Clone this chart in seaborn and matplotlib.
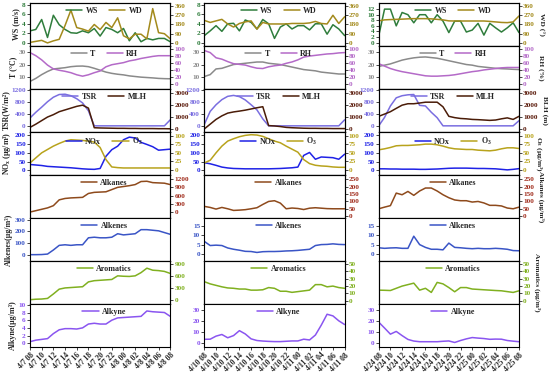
import numpy as np
import pandas as pd
import matplotlib
matplotlib.use('Agg')
import matplotlib.pyplot as plt
import seaborn as sns

# start of each 25-hour episode
starts = ['2019-04-07 08:00', '2019-04-10 08:00', '2019-04-24 08:00']

# ---- episode 1: 4/7 08 - 4/8 08 ----
ws_1 = [2.5, 2.8, 4.9, 1.1, 5.8, 3.8, 2.8, 2.1, 2.0, 2.5, 2.1, 3.0, 1.4, 3.2, 2.8, 2.1, 3.0, 0.4, 2.1, 0.2, 0.9, 0.6, 0.9, 0.9, 0.2]
wd_1 = [5, 15, 25, 0, 20, 35, 170, 320, 150, 135, 115, 180, 130, 200, 150, 245, 70, 40, 85, 85, 40, 335, 100, 90, 40]
t_1 = [6.6, 9, 12, 14.5, 16.5, 17, 17.5, 18.3, 18.7, 18.8, 18.3, 17, 15.5, 14, 13, 12.3, 11.8, 11, 10.5, 10, 9.7, 9.4, 9, 8.8, 8.7]
rh_1 = [91, 82, 70, 55, 44, 40, 37, 33, 27, 23, 27, 33, 38, 50, 56, 59, 62, 67, 70, 74, 77, 80, 82, 82, 82]
tsr_1 = [260, 450, 620, 800, 950, 1040, 1050, 1000, 900, 760, 500, 0, 0, 0, 0, 0, 0, 0, 0, 0, 0, 0, 0, 0, 200]
mlh_1 = [130, 400, 700, 1000, 1200, 1450, 1600, 1750, 1900, 2000, 1750, 100, 80, 70, 60, 50, 50, 40, 40, 30, 30, 30, 20, 20, 10]
nox_1 = [33, 30, 27, 22, 20, 18, 16, 14, 11, 8, 6, 5, 10, 80, 118, 138, 175, 190, 185, 160, 148, 135, 115, 118, 121]
o3_1 = [20, 35, 50, 60, 70, 78, 85, 89, 88, 87, 85, 82, 66, 30, 8, 6, 5, 5, 5, 5, 5, 5, 5, 5, 5]
alkanes_1 = [10, 60, 110, 160, 240, 450, 500, 520, 530, 540, 680, 720, 730, 740, 820, 900, 930, 960, 1000, 1110, 1120, 1070, 1060, 1050, 1000]
alkenes_1 = [0, 0, 1, 5, 40, 80, 85, 80, 85, 85, 145, 150, 145, 145, 150, 180, 170, 175, 180, 215, 215, 210, 205, 190, 175]
aromatics_1 = [8, 20, 25, 40, 150, 270, 300, 310, 320, 330, 450, 480, 490, 500, 510, 600, 590, 585, 600, 680, 790, 740, 730, 710, 660]
alkyne_1 = [0.4, 0.8, 1.0, 1.2, 2.5, 3.5, 3.8, 3.8, 3.7, 4.0, 5.0, 5.2, 5.0, 5.0, 6.0, 6.6, 6.7, 6.8, 6.9, 7.0, 8.4, 8.2, 8.1, 8.0, 7.0]

# ---- episode 2: 4/10 08 - 4/11 08 ----
ws_2 = [1.5, 2.5, 3.6, 2.4, 4.0, 4.1, 2.5, 4.8, 4.3, 2.9, 4.9, 4.0, 0.9, 3.3, 4.0, 2.9, 3.6, 3.6, 2.7, 4.0, 4.0, 1.8, 3.8, 2.9, 1.5]
wd_2 = [220, 200, 215, 230, 185, 155, 190, 205, 215, 135, 200, 185, 185, 185, 185, 190, 190, 190, 195, 210, 190, 185, 270, 190, 255]
t_2 = [10.5, 12, 16.5, 17, 18.5, 20, 20.5, 21, 21.5, 22, 22, 21, 20.5, 20, 19, 18, 17, 16, 15.5, 15, 14, 13.5, 13, 12.5, 12.5]
rh_2 = [97, 91, 76, 72, 65, 59, 57, 55, 50, 46, 45, 50, 53, 55, 60, 64, 70, 78, 81, 83, 85, 87, 88, 90, 91]
tsr_2 = [50, 480, 700, 870, 980, 1010, 970, 860, 700, 530, 230, 0, 0, 0, 0, 0, 0, 0, 0, 0, 0, 0, 0, 0, 200]
mlh_2 = [0, 400, 800, 1100, 1330, 1430, 1500, 1580, 1680, 1780, 1870, 280, 250, 200, 130, 100, 80, 60, 50, 50, 40, 40, 30, 30, 30]
nox_2 = [43, 37, 28, 18, 13, 10, 9, 8, 8, 8, 8, 8, 9, 10, 12, 14, 18, 85, 102, 63, 76, 74, 72, 63, 92]
o3_2 = [20, 28, 50, 70, 85, 92, 98, 102, 104, 103, 99, 92, 85, 80, 70, 61, 52, 30, 18, 13, 11, 10, 8, 7, 7]
alkanes_2 = [67, 60, 49, 60, 51, 40, 42, 45, 51, 58, 80, 100, 105, 89, 51, 56, 53, 46, 55, 58, 55, 52, 51, 51, 51]
alkenes_2 = [6.7, 4.5, 4.7, 4.5, 3.2, 2.5, 2.0, 1.4, 1.3, 0.8, 1.2, 1.3, 1.3, 1.4, 1.6, 1.7, 1.9, 2.2, 2.5, 4.5, 5.0, 5.1, 5.4, 5.1, 5.0]
aromatics_2 = [26, 23, 21, 19, 17.5, 17, 16, 16, 14.5, 14.5, 15, 18, 17, 13, 13, 11.5, 12.5, 13.5, 14.5, 22, 22, 19, 20, 18, 17]
alkyne_2 = [3.1, 3.2, 6, 7.5, 4.5, 6.5, 11, 8, 3.5, 2, 1.5, 1.2, 1.0, 1.0, 1.3, 1.6, 1.6, 3.2, 2.5, 7, 16, 26, 24.5, 20, 16.6]

# ---- episode 3: 4/24 08 - 4/25 08 ----
ws_3 = [2.4, 12, 12, 6, 10.8, 10, 7.1, 10, 10, 7.1, 10, 7.7, 3.6, 7.7, 7.7, 3.8, 4.5, 6.9, 2.7, 6.9, 5.3, 3.8, 5.3, 7.1, 3.6]
wd_3 = [215, 225, 228, 230, 232, 235, 237, 237, 237, 235, 230, 225, 215, 214, 214, 214, 214, 214, 214, 210, 205, 200, 198, 205, 263]
t_3 = [18.5, 19.5, 20.5, 22, 23.5, 24.5, 25.3, 25.8, 26, 25.5, 25, 24, 23, 22, 21, 20, 19.5, 18.5, 18, 17.5, 17, 16.7, 16.5, 16.2, 16]
rh_3 = [59, 52, 45, 40, 36, 33, 30, 27, 24, 23, 23, 24, 25, 27, 30, 33, 36, 38, 41, 43, 45, 47, 48, 48, 48]
tsr_3 = [0, 280, 660, 930, 1000, 1030, 1040, 680, 660, 450, 270, 0, 0, 0, 0, 0, 0, 0, 0, 0, 0, 0, 0, 0, 170]
mlh_3 = [1060, 1250, 1450, 1730, 2000, 2120, 2120, 2180, 2250, 2250, 2250, 1860, 1060, 950, 880, 850, 800, 780, 750, 720, 750, 850, 930, 800, 1060]
nox_3 = [8, 8, 7, 7, 6, 6, 6, 5, 5, 6, 7, 9, 11, 12, 12, 12, 11, 10, 10, 9, 8, 5, 2, 5, 9]
o3_3 = [59, 62, 66, 71, 72, 72, 73, 74, 76, 76, 74, 70, 65, 62, 61, 60, 60, 58, 57, 56, 58, 62, 65, 65, 63]
alkanes_3 = [51, 62, 72, 156, 145, 167, 141, 170, 190, 190, 170, 145, 125, 110, 105, 105, 96, 100, 90, 74, 74, 70, 56, 51, 62]
alkenes_3 = [3.3, 3.0, 3.2, 3.3, 3.0, 3.0, 9.5, 5.0, 3.5, 2.5, 2.5, 2.2, 5.8, 3.5, 3.3, 3.0, 2.8, 3.0, 2.8, 2.8, 3.0, 2.8, 2.5, 1.8, 1.7]
aromatics_3 = [14.5, 14.3, 14, 17, 20, 22, 24, 14.5, 17, 11.4, 25, 23, 18, 12.3, 18, 18, 16, 15.5, 15, 14.5, 14, 13.6, 12.5, 11.4, 13.6]
alkyne_3 = [18.8, 13.4, 7.8, 10.3, 6.5, 3, 1.5, 0.9, 0.9, 0.9, 0.9, 1.3, 1.6, 0.2, 2, 3.5, 4.7, 4.2, 3.8, 3.1, 3.3, 3.2, 2, 1.4, 0.9]

keys = ['WS', 'WD', 'T', 'RH', 'TSR', 'MLH', 'NOx', 'O3', 'Alkanes', 'Alkenes', 'Aromatics', 'Alkyne']
episodes = [
    [ws_1, wd_1, t_1, rh_1, tsr_1, mlh_1, nox_1, o3_1, alkanes_1, alkenes_1, aromatics_1, alkyne_1],
    [ws_2, wd_2, t_2, rh_2, tsr_2, mlh_2, nox_2, o3_2, alkanes_2, alkenes_2, aromatics_2, alkyne_2],
    [ws_3, wd_3, t_3, rh_3, tsr_3, mlh_3, nox_3, o3_3, alkanes_3, alkenes_3, aromatics_3, alkyne_3],
]

colors = {
    'WS': '#2f7d3c', 'WD': '#a38a1c', 'T': '#8a8a8a', 'RH': '#b46ac8',
    'TSR': '#7a6ee0', 'MLH': '#4a1c08', 'NOx': '#1f22e6', 'O3': '#b8a31c',
    'Alkanes': '#8e4a1c', 'Alkenes': '#3a55c6', 'Aromatics': '#80b020', 'Alkyne': '#8a55f0',
}
tick_colors = dict(colors)
tick_colors.update({'Alkanes': '#a02c1c', 'MLH': '#5a1a0a'})

legend_names = {'O3': 'O$_3$'}
left_labels = {'WS': 'WS (m/s)', 'T': 'T (°C)', 'TSR': 'TSR(W/m²)', 'NOx': 'NO$_x$ (μg/m³)',
               'Alkenes': 'Alkenes(μg/m³)', 'Alkyne': 'Alkyne(μg/m³)'}
right_labels = {'WD': 'WD (°)', 'RH': 'RH (%)', 'MLH': 'BLH (m)', 'O3': 'O$_3$ (μg/m³)',
                'Alkanes': 'Alkanes (μg/m³)', 'Aromatics': 'Aromatics (μg/m³)'}

rows = [('WS', 'WD'), ('T', 'RH'), ('TSR', 'MLH'), ('NOx', 'O3'),
        (None, 'Alkanes'), ('Alkenes', None), (None, 'Aromatics'), ('Alkyne', None)]

# (ymin, ymax, first tick, last tick, step) per column
scales = {
    'WS': [(-0.7, 8.4, 0, 8, 2)] * 2 + [(-1.2, 14.2, 0, 12, 2)],
    'WD': [(-30, 390, 0, 360, 90)] * 3,
    'T': [(0.6, 34.7, 10, 30, 10)] * 3,
    'RH': [(-14, 110, 0, 100, 20)] * 3,
    'TSR': [(-205, 1223, 0, 1200, 400)] * 3,
    'MLH': [(-260, 3360, 0, 3000, 1000)] * 3,
    'NOx': [(-27.6, 219.4, 0, 200, 50)] * 3,
    'O3': [(-16, 112, 0, 100, 25)] * 3,
    'Alkanes': [(-205, 1344, 0, 1200, 300)] + [(-11, 277, 0, 250, 50)] * 2,
    'Alkenes': [(-55, 315, 0, 300, 100)] + [(-3.8, 19.2, 0, 15, 5)] * 2,
    'Aromatics': [(-100, 967, 0, 900, 300)] + [(-4.4, 54, 0, 50, 10)] * 2,
    'Alkyne': [(-1, 10.2, 0, 10, 2)] + [(-4, 35.3, 0, 30, 10)] * 2,
}

sns.set_style('ticks')
plt.rcParams['font.family'] = ['Liberation Serif', 'DejaVu Serif']
plt.rcParams['font.weight'] = 'bold'
plt.rcParams['axes.labelweight'] = 'bold'
plt.rcParams['mathtext.fontset'] = 'custom'
plt.rcParams['mathtext.rm'] = 'Liberation Serif:bold'
plt.rcParams['mathtext.it'] = 'Liberation Serif:bold'
plt.rcParams['mathtext.default'] = 'rm'

FS = 5.2


def style_y(ax, key, col, side):
    lo, hi, a, b, step = scales[key][col]
    ax.set_ylim(lo, hi)
    ax.set_yticks(np.arange(a, b + step / 2, step))
    ax.tick_params(axis='y', which='both', length=2, width=0.6, pad=1,
                   labelsize=FS, labelcolor=tick_colors[key],
                   left=(side == 'left'), labelleft=(side == 'left'),
                   right=(side == 'right'), labelright=(side == 'right'))
    ax.set_ylabel('')


fig = plt.figure(figsize=(5.5, 3.72), dpi=100)
gs = fig.add_gridspec(8, 3, left=0.0545, right=0.9436, top=0.992, bottom=0.067,
                      hspace=0, wspace=0.243)

for c, (start, series) in enumerate(zip(starts, episodes)):
    times = pd.date_range(start, periods=25, freq='h')
    df = pd.DataFrame(dict(zip(keys, series)))
    df['time'] = times
    xticks = times[::2]
    xlabels = [f'{t.month}/{t.day} {t:%H}' for t in xticks]

    for r, (lk, rk) in enumerate(rows):
        ax = fig.add_subplot(gs[r, c])
        handles = []
        if lk is not None:
            sns.lineplot(data=df, x='time', y=lk, ax=ax, color=colors[lk], lw=1.1, legend=False)
            handles.append((ax.get_lines()[-1], legend_names.get(lk, lk)))
            style_y(ax, lk, c, 'left')
            if c == 0 and lk in left_labels:
                ax.set_ylabel(left_labels[lk], fontsize=5.7, labelpad=1)
        else:
            ax.set_yticks([])
        ax2 = None
        if rk is not None:
            ax2 = ax.twinx()
            sns.lineplot(data=df, x='time', y=rk, ax=ax2, color=colors[rk], lw=1.1, legend=False)
            handles.append((ax2.get_lines()[-1], legend_names.get(rk, rk)))
            style_y(ax2, rk, c, 'right')
            if c == 2 and rk in right_labels:
                ax2.set_ylabel(right_labels[rk], fontsize=5.4, rotation=270, labelpad=7)

        ax.set_xlim(times[0], times[-1])
        ax.set_xticks(xticks)
        ax.set_xlabel('')
        ax.tick_params(axis='x', length=2, width=0.6, pad=1, labelsize=FS + 0.3,
                       direction='out', labelbottom=(r == len(rows) - 1))
        if r == len(rows) - 1:
            ax.set_xticklabels(xlabels, rotation=45, ha='right', rotation_mode='anchor')
        for a in [ax] + ([ax2] if ax2 is not None else []):
            for s in a.spines.values():
                s.set_linewidth(0.8)
                s.set_color('black')

        top_ax = ax2 if ax2 is not None else ax
        top_ax.legend([h for h, _ in handles], [n for _, n in handles],
                      loc='upper center', bbox_to_anchor=(0.53, 1.04), ncol=2,
                      frameon=False, fontsize=FS + 0.6, handlelength=2.0,
                      handletextpad=0.4, columnspacing=1.4, borderpad=0.2)

fig.savefig('out.png', dpi=100)
